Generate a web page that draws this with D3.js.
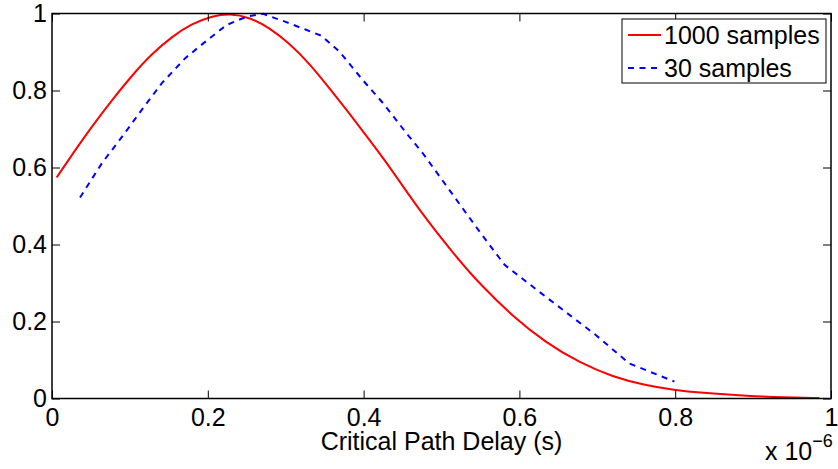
<!DOCTYPE html>
<html>
<head>
<meta charset="utf-8">
<script src="https://cdn.jsdelivr.net/npm/d3@7"></script>
<style>
  body { margin: 0; background: #fff; }
  svg { display: block; }
  text { font-family: "Liberation Sans", Arial, Helvetica, sans-serif; }
</style>
</head>
<body>
<div id="chart"></div>
<script>
// values in units of 1e-6 s
let redX = [0.006, 0.026, 0.051, 0.077, 0.103, 0.128, 0.154, 0.179, 0.205, 0.228, 0.254, 0.279, 0.305, 0.331, 0.356, 0.382, 0.408, 0.435, 0.468, 0.521, 0.549, 0.591, 0.634, 0.677, 0.720, 0.762, 0.799, 0.831, 0.895, 0.940, 0.985];
let redY = [0.574, 0.634, 0.706, 0.775, 0.840, 0.895, 0.940, 0.973, 0.993, 1.000, 0.990, 0.963, 0.922, 0.869, 0.806, 0.740, 0.670, 0.598, 0.498, 0.362, 0.298, 0.214, 0.145, 0.093, 0.056, 0.034, 0.022, 0.015, 0.0065, 0.003, 0.001];

let blueX = [0.036, 0.064, 0.090, 0.115, 0.141, 0.171, 0.197, 0.224, 0.250, 0.271, 0.299, 0.327, 0.346, 0.369, 0.399, 0.425, 0.455, 0.476, 0.549, 0.581, 0.634, 0.698, 0.741, 0.799];
let blueY = [0.522, 0.611, 0.680, 0.749, 0.819, 0.884, 0.927, 0.970, 0.992, 0.999, 0.979, 0.957, 0.942, 0.901, 0.827, 0.767, 0.689, 0.637, 0.433, 0.347, 0.264, 0.165, 0.091, 0.044];

let xTicks = [0, 0.2, 0.4, 0.6, 0.8, 1];
let yTicks = [0, 0.2, 0.4, 0.6, 0.8, 1];
let seriesNames = ["1000 samples", "30 samples"];

function main(){
    let W = 838, H = 469;
    let left = 52, right = 831, top = 13.5, bottom = 398.5;
    let dash = "6,5.5";

    let svg = d3.select("#chart").append("svg")
        .attr("width", W)
        .attr("height", H);

    let xScale = d3.scaleLinear().domain([0, 1]).range([left, right]);
    let yScale = d3.scaleLinear().domain([0, 1]).range([bottom, top]);

    let fmt = d => String(d);

    // curves
    let red = redX.map((x, i) => [xScale(x), yScale(redY[i])]);
    let blue = blueX.map((x, i) => [xScale(x), yScale(blueY[i])]);

    svg.append("path")
        .attr("d", d3.line().curve(d3.curveBasis)(red))
        .attr("fill", "none")
        .attr("stroke", "#ff0000")
        .attr("stroke-width", 2);

    svg.append("path")
        .attr("d", d3.line()(blue))
        .attr("fill", "none")
        .attr("stroke", "#0000ff")
        .attr("stroke-width", 2)
        .attr("stroke-dasharray", dash);

    // axes (ticks point inward)
    let axX = svg.append("g")
        .attr("transform", "translate(0," + bottom + ")")
        .call(d3.axisBottom(xScale).tickValues(xTicks).tickFormat(fmt).tickSize(-8).tickPadding(10));
    let axY = svg.append("g")
        .attr("transform", "translate(" + left + ",0)")
        .call(d3.axisLeft(yScale).tickValues(yTicks).tickFormat(fmt).tickSize(-8).tickPadding(5));
    let axT = svg.append("g")
        .attr("transform", "translate(0," + top + ")")
        .call(d3.axisTop(xScale).tickValues(xTicks).tickFormat("").tickSize(-8));
    let axR = svg.append("g")
        .attr("transform", "translate(" + right + ",0)")
        .call(d3.axisRight(yScale).tickValues(yTicks).tickFormat("").tickSize(-8));

    [axX, axY, axT, axR].forEach(g => {
        g.select(".domain").remove();
        g.selectAll("line").attr("stroke", "#000").attr("stroke-width", 1);
        g.selectAll("text")
            .attr("fill", "#000")
            .attr("font-size", 25)
            .attr("font-family", "Liberation Sans, Arial, sans-serif");
    });

    svg.append("rect")
        .attr("x", left)
        .attr("y", top)
        .attr("width", right - left)
        .attr("height", bottom - top)
        .attr("fill", "none")
        .attr("stroke", "#000")
        .attr("stroke-width", 1.5);

    // axis label
    svg.append("text")
        .attr("x", (left + right) / 2)
        .attr("y", 450)
        .attr("text-anchor", "middle")
        .attr("font-size", 25)
        .attr("fill", "#000")
        .text("Critical Path Delay (s)");

    // exponent
    let ex = svg.append("text")
        .attr("x", 765)
        .attr("y", 460)
        .attr("font-size", 25)
        .attr("fill", "#000");
    ex.append("tspan").text("x 10");
    ex.append("tspan")
        .attr("dy", -13)
        .attr("font-size", 18)
        .text("\u22126");

    // legend
    let lg = svg.append("g");
    lg.append("rect")
        .attr("x", 622)
        .attr("y", 19)
        .attr("width", 204)
        .attr("height", 64)
        .attr("fill", "#fff")
        .attr("stroke", "#000")
        .attr("stroke-width", 1);
    let rows = [
        {name: seriesNames[0], color: "#ff0000", dash: null, y: 35},
        {name: seriesNames[1], color: "#0000ff", dash: dash, y: 68}
    ];
    rows.forEach(r => {
        lg.append("line")
            .attr("x1", 628).attr("x2", 661)
            .attr("y1", r.y).attr("y2", r.y)
            .attr("stroke", r.color)
            .attr("stroke-width", 2)
            .attr("stroke-dasharray", r.dash);
        lg.append("text")
            .attr("x", 664)
            .attr("y", r.y)
            .attr("dy", "0.35em")
            .attr("font-size", 25)
            .attr("fill", "#000")
            .text(r.name);
    });
}

main();
</script>
</body>
</html>
